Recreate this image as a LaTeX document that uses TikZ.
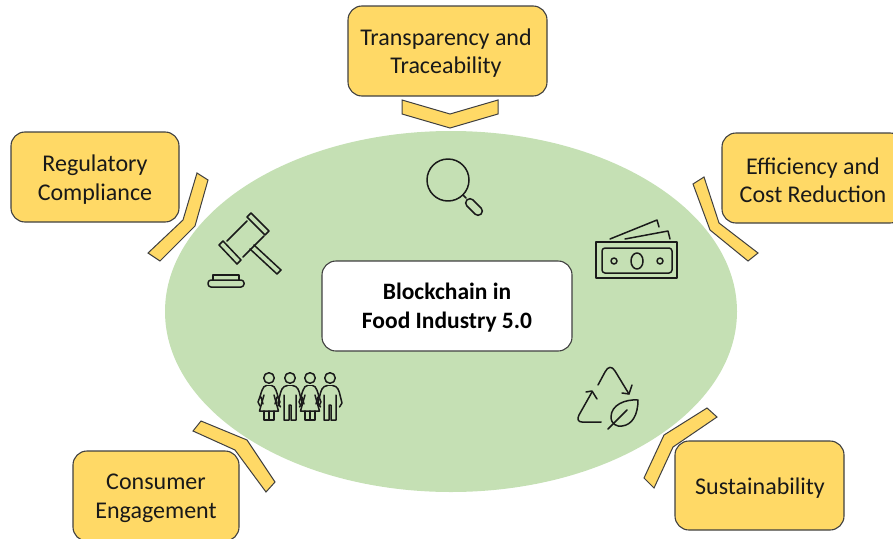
\documentclass[tikz,border=0pt]{standalone}
\usepackage{fontspec}
\setmainfont{Carlito}
\usetikzlibrary{shapes.geometric,arrows.meta}
\definecolor{boxy}{HTML}{FFD966}
\definecolor{edgeg}{HTML}{404040}
\definecolor{ovalg}{HTML}{C5E0B4}
\definecolor{icon}{HTML}{1A1A1A}
\tikzset{
  topic/.style={draw=edgeg,fill=boxy,line width=1.1pt,rounded corners=14pt,minimum width=#1,align=center,
     font=\fontsize{24}{28.5}\selectfont,text=black!90,inner sep=0pt},
  topic/.default=168pt,
  chevron/.style={draw=edgeg,fill=boxy,line width=1pt,line join=miter},
  iconline/.style={draw=icon,line width=1.5pt,line join=round,line cap=round},
  woman/.pic={
    \draw[iconline] (0,0) circle (5.3);
    \draw[iconline] (-2.5,7.5) .. controls (-7,8) and (-7,14) .. (-11,24) -- (-9,28) (-8,19) -- (-6,26);
    \draw[iconline] (2.5,7.5) .. controls (7,8) and (7,14) .. (11,24) -- (9,28) (8,19) -- (6,26);
    \draw[iconline] (-2.5,7.5) -- (2.5,7.5);
    \draw[iconline] (-5,17) -- (-9.5,33) -- (9.5,33) -- (5,17);
    \draw[iconline] (-5,33) -- (-5,42) -- (5,42) -- (5,33) (0,33) -- (0,42);
  },
  manfig/.pic={
    \draw[iconline] (0,0) circle (5.3);
    \draw[iconline] (-2.5,7.5) -- (2.5,7.5);
    \draw[iconline] (-2.5,7.5) .. controls (-8,8) and (-9,13) .. (-10,17) -- (-12,25) -- (-9.5,29) (-6,17) -- (-6,42) -- (-1,42) -- (-1,27) -- (1,27) -- (1,42) -- (6,42) -- (6,17);
    \draw[iconline] (2.5,7.5) .. controls (8,8) and (9,13) .. (10,17) -- (12,25) -- (9.5,29);
  }
}
\begin{document}
\begin{tikzpicture}[x=1pt,y=-1pt]
\useasboundingbox (0,0) rectangle (893,538);
\clip (0,0) rectangle (893,538);
\node[ellipse,fill=ovalg,minimum width=572pt,minimum height=361pt,inner sep=0pt] (oval) at (451,311.5) {};

\node[topic=199pt,minimum height=90pt] (top) at (447.5,51) {};
\node[topic=168pt,minimum height=90pt] (left) at (95,177) {};
\node[topic=182pt,minimum height=90pt] (right) at (813,178) {};
\node[topic=166pt,minimum height=90pt] (bl) at (156,496) {};
\node[topic=169pt,minimum height=89pt] (br) at (759.5,485.5) {};
\path[every node/.style={align=center,font=\fontsize{24}{28.5}\selectfont,text=black!90,inner sep=0pt}]
 (446,53) node (toptext) {Transparency and\\Traceability}
 (95,179.5) node (lefttext) {Regulatory\\Compliance}
 (813,180.5) node (righttext) {Efficiency and\\Cost Reduction}
 (156,498.5) node (bltext) {Consumer\\Engagement}
 (760,488) node (brtext) {Sustainability};

\node[draw=edgeg,fill=white,line width=1.1pt,rounded corners=14pt,minimum width=250pt,minimum height=90pt] (corebox) at (447,306) {};
\node[font=\fontsize{23.5}{29}\selectfont\bfseries,align=center,text=black,inner sep=0pt] (core) at (447,307.5) {Blockchain in\\Food Industry 5.0};

\draw[chevron] (402,100) -- (450,114) -- (498,100) -- (498,114) -- (450,128) -- (402,114) -- cycle;
\draw[chevron] (197,173) -- (208,180) -- (195,226) -- (160,261) -- (148,253) -- (183,220) -- cycle;
\draw[chevron] (704,177) -- (693,184) -- (710,230) -- (748,261) -- (758,253) -- (719,223) -- cycle;
\draw[chevron] (201,421) -- (193,431) -- (235,450) -- (266,492) -- (275,482) -- (247,440) -- cycle;
\draw[chevron] (707,408) -- (717,417) -- (673,447) -- (654,488) -- (644,478) -- (664,435) -- cycle;

% magnifier
\draw[iconline] (448,180) circle (21);
\draw[iconline] (463,195) -- (466,198);
\draw[iconline,rounded corners=4pt] (470,197) -- (484,211) -- (478,217) -- (464,203) -- cycle;

% gavel
\draw[iconline] (251,213) -- (269,231) -- (265,235) -- (247,217) -- cycle;
\draw[iconline] (223,241) -- (241,260) -- (237,264) -- (219,245) -- cycle;
\draw[iconline] (247,221) -- (227,241) (264,236) -- (243,257);
\draw[iconline] (254,245) -- (281,270) -- (277,274) -- (250,249);
\draw[iconline,rounded corners=3pt] (208,280) rectangle (244,287);
\draw[iconline] (213,280) -- (213,275) -- (239,275) -- (239,280);

% money
\draw[iconline] (596,242) rectangle (677,278);
\draw[iconline,rounded corners=3pt] (602,248) rectangle (672,273);
\draw[iconline] (637,261) ellipse (6 and 8);
\draw[iconline] (614,261) circle (3);
\draw[iconline] (660,261) circle (3);
\draw[iconline] (610,239) -- (657,220) -- (659,227);
\draw[iconline] (625,239) -- (668,231) -- (670,239);

% people
\pic at (269,378) {woman};
\pic at (290,378) {manfig};
\pic at (310,378) {woman};
\pic at (330,378) {manfig};

% recycle
\draw[iconline] (598,385) -- (605,372) .. controls (608,366) and (612,366) .. (615,371) -- (629,394);
\draw[iconline] (622,393) -- (629,394) -- (632,385);
\draw[iconline] (601,422) -- (582,422) .. controls (578,422) and (577,419) .. (579,415) -- (592,392);
\draw[iconline] (586,392) -- (592,391) -- (597,399);
\draw[iconline] (638,400) .. controls (625,399) and (611,405) .. (611,417) .. controls (611,424) and (617,427) .. (622,426) .. controls (632,425) and (638,415) .. (638,400) -- cycle;
\draw[iconline] (608,429) -- (627,410);
\end{tikzpicture}
\end{document}
